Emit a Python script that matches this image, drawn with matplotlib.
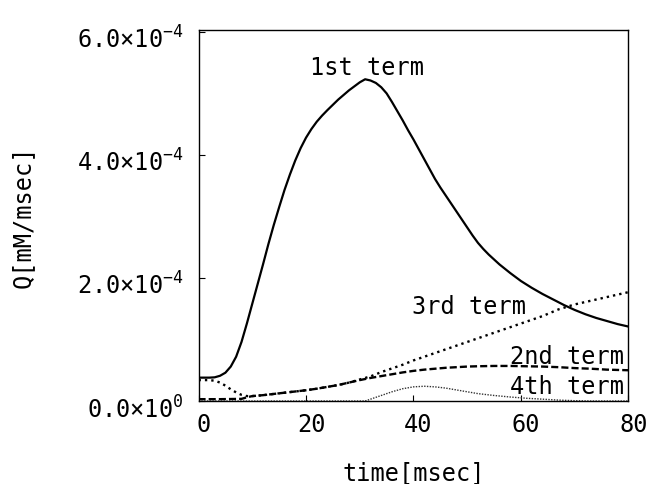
import matplotlib
matplotlib.use('Agg')
import matplotlib.pyplot as plt
import matplotlib.transforms as mtransforms
from matplotlib.ticker import FixedLocator

plt.rcParams['font.family'] = ['DejaVu Sans Mono']
plt.rcParams['mathtext.default'] = 'regular'

# values, time in msec, Q in mM/msec

# 1st term
t1 = [0, 2, 3, 4, 5, 6, 7, 8, 9, 10, 11, 12, 13, 14, 15, 16, 17, 18, 19, 20,
      21, 22, 23, 24, 26, 28, 30, 31, 32, 33, 34, 35, 36, 37, 38, 39, 40, 41,
      42, 43, 44, 45, 46, 47, 48, 49, 50, 51, 52, 53, 54, 55, 56, 58, 60, 62,
      64, 66, 68, 70, 72, 74, 76, 78, 80]
q1 = [3.8e-5, 3.8e-5, 3.85e-5, 4.1e-5, 4.6e-5, 5.6e-5, 7.2e-5, 9.6e-5, 1.26e-4, 1.58e-4,
      1.9e-4, 2.22e-4, 2.55e-4, 2.86e-4, 3.15e-4, 3.43e-4, 3.68e-4, 3.91e-4, 4.11e-4, 4.28e-4,
      4.42e-4, 4.54e-4, 4.64e-4, 4.73e-4, 4.9e-4, 5.05e-4, 5.18e-4, 5.23e-4, 5.21e-4, 5.17e-4,
      5.1e-4, 5.0e-4, 4.86e-4, 4.71e-4, 4.56e-4, 4.4e-4, 4.25e-4, 4.09e-4,
      3.93e-4, 3.77e-4, 3.61e-4, 3.47e-4, 3.34e-4, 3.21e-4, 3.08e-4, 2.95e-4, 2.82e-4, 2.69e-4,
      2.57e-4, 2.47e-4, 2.38e-4, 2.3e-4, 2.22e-4, 2.08e-4, 1.95e-4, 1.84e-4,
      1.74e-4, 1.65e-4, 1.56e-4, 1.48e-4, 1.41e-4, 1.35e-4, 1.3e-4, 1.25e-4, 1.21e-4]

# 2nd term
t2 = [0, 4, 8, 9, 10, 12, 14, 16, 18, 20, 22, 24, 26, 28, 30, 32, 34, 36, 38, 40,
      42, 44, 46, 48, 50, 52, 55, 58, 61, 64, 67, 70, 73, 76, 80]
q2 = [0.3e-5, 0.3e-5, 0.35e-5, 0.6e-5, 0.8e-5, 0.95e-5, 1.15e-5, 1.35e-5, 1.55e-5, 1.75e-5,
      2.0e-5, 2.3e-5, 2.6e-5, 3.0e-5, 3.4e-5, 3.75e-5, 4.05e-5, 4.35e-5, 4.65e-5, 4.9e-5,
      5.1e-5, 5.25e-5, 5.4e-5, 5.5e-5, 5.6e-5, 5.65e-5, 5.7e-5, 5.7e-5,
      5.65e-5, 5.6e-5, 5.5e-5, 5.35e-5, 5.25e-5, 5.1e-5, 5.0e-5]

# 3rd term
t3 = [0, 2, 3, 4, 5, 6, 7, 8, 9, 10, 12, 14, 16, 18, 20, 22, 24, 26, 28, 30,
      32, 34, 36, 38, 40, 42, 44, 46, 48, 50, 52, 55, 58, 61, 64, 67, 70, 73, 76, 80]
q3 = [3.4e-5, 3.4e-5, 3.3e-5, 3.0e-5, 2.5e-5, 1.9e-5, 1.4e-5, 1.0e-5, 0.8e-5, 0.8e-5,
      0.95e-5, 1.15e-5, 1.35e-5, 1.55e-5, 1.75e-5, 2.0e-5, 2.3e-5, 2.6e-5, 3.0e-5, 3.5e-5,
      4.0e-5, 4.7e-5, 5.3e-5, 5.9e-5, 6.6e-5, 7.2e-5, 7.8e-5, 8.4e-5, 9.0e-5, 9.6e-5,
      1.02e-4, 1.11e-4, 1.2e-4, 1.29e-4, 1.38e-4, 1.49e-4, 1.57e-4, 1.63e-4, 1.69e-4, 1.77e-4]

# 4th term
t4 = [0, 31, 32, 34, 36, 38, 40, 42, 44, 46, 48, 50, 52, 55, 58, 61, 64, 67, 70, 73, 80]
q4 = [0, 0, 0.3e-5, 0.9e-5, 1.5e-5, 2.0e-5, 2.3e-5, 2.4e-5, 2.3e-5, 2.1e-5,
      1.8e-5, 1.5e-5, 1.2e-5, 0.9e-5, 0.65e-5, 0.45e-5, 0.3e-5, 0.15e-5, 0.05e-5, 0, 0]

xticks = [0, 20, 40, 60, 80]
yticks = [0, 2e-4, 4e-4, 6e-4]
ytick_labels = ['0.0$\\times$10$^{0}$', '2.0$\\times$10$^{-4}$',
                '4.0$\\times$10$^{-4}$', '6.0$\\times$10$^{-4}$']

fig = plt.figure(figsize=(6.5, 4.85), dpi=100)
ax = fig.add_axes([0.3054, 0.1711, 0.6615, 0.7649])

ax.plot(t1, q1, color='black', lw=1.6, ls='-')
ax.plot(t2, q2, color='black', lw=1.7, ls=(0, (3, 1.3)))
ax.plot(t3, q3, color='black', lw=1.7, ls=(0, (1, 1.7)))
ax.plot(t4, q4, color='#333333', lw=1.0, ls=(0, (1, 1)))

fs = 17
ax.text(31.4, 5.43e-4, '1st term', ha='center', va='center', fontsize=fs)
ax.text(50.3, 1.545e-4, '3rd term', ha='center', va='center', fontsize=fs)
ax.text(79.2, 7.3e-5, '2nd term', ha='right', va='center', fontsize=fs)
ax.text(79.2, 2.4e-5, '4th term', ha='right', va='center', fontsize=fs)

ax.set_xlim(0, 80)
ax.set_ylim(0, 6.03e-4)
ax.xaxis.set_major_locator(FixedLocator(xticks))
ax.yaxis.set_major_locator(FixedLocator(yticks))
ax.set_yticklabels(ytick_labels)
ax.tick_params(direction='in', length=4.5, width=0.8, labelsize=fs,
               top=False, right=False)
ax.tick_params(axis='y', pad=11)
ax.tick_params(axis='x', pad=8)
for s in ax.spines.values():
    s.set_linewidth(1.0)

# labels in the original sit a little right / below their ticks
dx = mtransforms.ScaledTranslation(5 / 100, 0, fig.dpi_scale_trans)
for lab in ax.get_xticklabels():
    lab.set_transform(lab.get_transform() + dx)
dy = mtransforms.ScaledTranslation(0, -5 / 100, fig.dpi_scale_trans)
for lab in ax.get_yticklabels():
    lab.set_transform(lab.get_transform() + dy)

ax.set_xlabel('time[msec]', fontsize=fs, labelpad=17)
ax.set_ylabel('Q[mM/msec]', fontsize=fs, labelpad=30)

fig.savefig('out.png', dpi=100)
